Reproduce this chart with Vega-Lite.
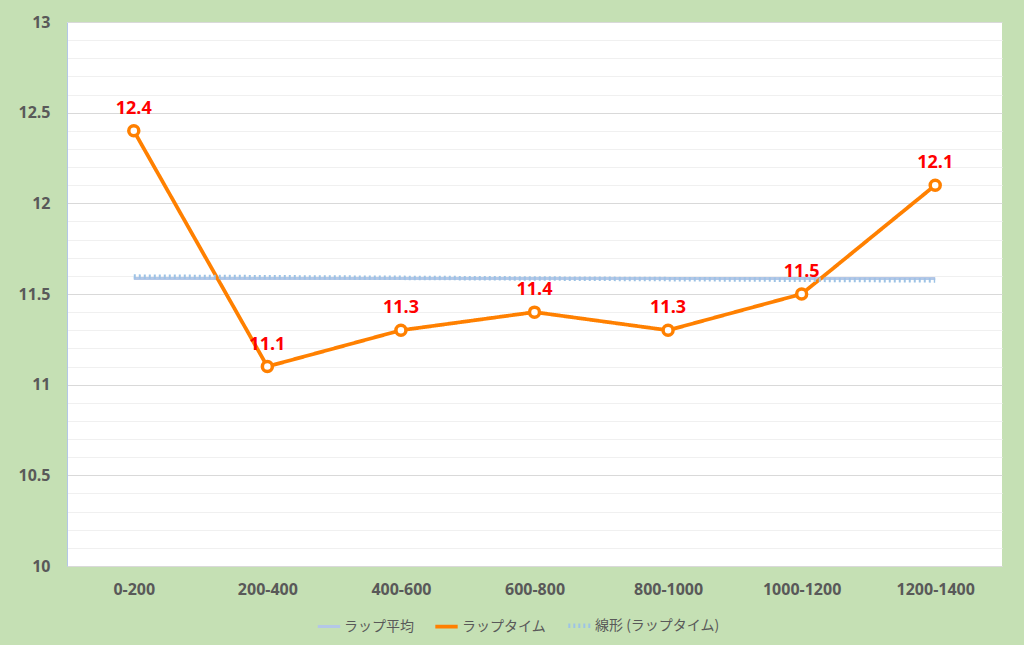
{
  "$schema": "https://vega.github.io/schema/vega-lite/v6.json",
  "width": 935,
  "height": 544,
  "autosize": {"type": "none"},
  "padding": {"left": 67, "top": 22, "right": 22, "bottom": 79},
  "background": "#c5e0b4",
  "config": {
    "view": {"fill": "#ffffff", "stroke": null},
    "font": "Open Sans",
    "axis": {"labelFont": "Open Sans", "labelColor": "#595959", "labelFontWeight": "bold"}
  },
  "data": {
    "values": [
      {"section": "0-200", "series": "ラップ平均", "value": 11.586},
      {"section": "1200-1400", "series": "ラップ平均", "value": 11.586},
      {"section": "0-200", "series": "ラップタイム", "value": 12.4},
      {"section": "200-400", "series": "ラップタイム", "value": 11.1},
      {"section": "400-600", "series": "ラップタイム", "value": 11.3},
      {"section": "600-800", "series": "ラップタイム", "value": 11.4},
      {"section": "800-1000", "series": "ラップタイム", "value": 11.3},
      {"section": "1000-1200", "series": "ラップタイム", "value": 11.5},
      {"section": "1200-1400", "series": "ラップタイム", "value": 12.1},
      {"section": "0-200", "series": "線形 (ラップタイム)", "value": 11.596},
      {"section": "1200-1400", "series": "線形 (ラップタイム)", "value": 11.575}
    ]
  },
  "encoding": {
    "x": {
      "field": "section", "type": "ordinal",
      "scale": {"type": "point", "padding": 0.5, "domain": ["0-200", "200-400", "400-600", "600-800", "800-1000", "1000-1200", "1200-1400"]},
      "axis": {"title": null, "labelAngle": 0, "labelFontSize": 16, "labelPadding": 15, "ticks": false, "domainColor": "#d9d9d9", "grid": false}
    },
    "y": {
      "field": "value", "type": "quantitative",
      "scale": {"domain": [10, 13], "nice": false, "zero": false},
      "axis": {
        "title": null,
        "values": [10,10.1,10.2,10.3,10.4,10.5,10.6,10.7,10.8,10.9,11,11.1,11.2,11.3,11.4,11.5,11.6,11.7,11.8,11.9,12,12.1,12.2,12.3,12.4,12.5,12.6,12.7,12.8,12.9,13],
        "labelExpr": "abs(datum.value * 2 - round(datum.value * 2)) < 0.001 ? toString(datum.value) : ''",
        "labelOverlap": false,
        "labelFontSize": 16, "labelPadding": 17, "ticks": false,
        "domainColor": "#b4c7e7",
        "grid": true,
        "gridColor": {"condition": {"test": "abs(datum.value * 2 - round(datum.value * 2)) < 0.001", "value": "#d9d9d9"}, "value": "#f0f0f0"},
        "gridWidth": 1
      }
    }
  },
  "layer": [
    {
      "mark": {"type": "line", "clip": false},
      "encoding": {
        "color": {
          "field": "series", "type": "nominal", "sort": null,
          "scale": {"domain": ["ラップ平均", "ラップタイム", "線形 (ラップタイム)"], "range": ["#b4c7e7", "#ff8000", "#9dc3e6"]},
          "legend": {"title": null, "orient": "none", "legendX": 249, "legendY": 590, "direction": "horizontal", "symbolType": "stroke", "symbolStrokeWidth": 3, "symbolSize": 500, "labelFontSize": 14, "labelColor": "#595959", "labelFont": "Noto Sans CJK JP", "columnPadding": 13, "labelOffset": 2}
        },
        "strokeDash": {
          "field": "series", "type": "nominal", "sort": null,
          "scale": {"domain": ["ラップ平均", "ラップタイム", "線形 (ラップタイム)"], "range": [[1, 0], [1, 0], [2, 3]]},
          "legend": null
        },
        "strokeWidth": {
          "field": "series", "type": "nominal",
          "scale": {"domain": ["ラップ平均", "ラップタイム", "線形 (ラップタイム)"], "range": [3, 4.5, 3]},
          "legend": null
        }
      }
    },
    {
      "transform": [{"filter": "datum.series === 'ラップタイム'"}],
      "mark": {"type": "point", "shape": "circle", "filled": true, "fill": "#ffffff", "stroke": "#ff8000", "strokeWidth": 3.5, "size": 100, "opacity": 1}
    },
    {
      "transform": [{"filter": "datum.series === 'ラップタイム'"}],
      "mark": {"type": "text", "dy": -22, "color": "#ff0000", "fontWeight": "bold", "fontSize": 18, "font": "Open Sans"},
      "encoding": {
        "text": {"field": "value", "type": "quantitative", "format": ".1f"}
      }
    }
  ]
}
